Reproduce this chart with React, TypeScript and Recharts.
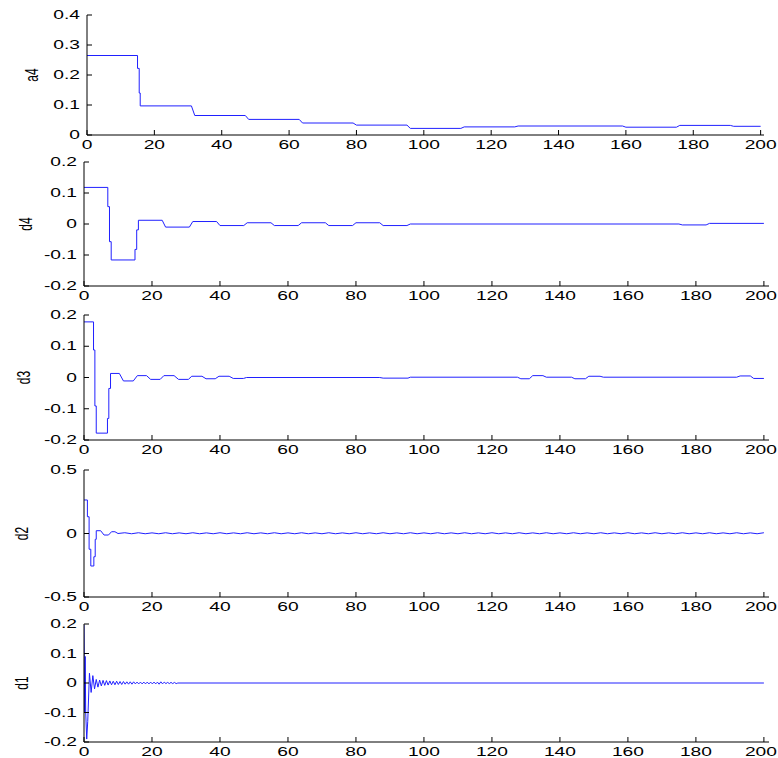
import { LineChart, Line, XAxis, YAxis } from "recharts";

// x ticks shared by all five panels
const xTicks = [0, 20, 40, 60, 80, 100, 120, 140, 160, 180, 200];

// approximation a4
const a4X = [0, 15, 15, 15.5, 15.5, 15.8, 15.8, 31, 32, 47, 48, 63, 64, 79, 80, 95, 96, 111, 112, 127, 128, 159, 160, 175, 176, 191, 192, 200];
const a4Y = [0.265, 0.265, 0.222, 0.222, 0.14, 0.14, 0.097, 0.097, 0.065, 0.065, 0.052, 0.052, 0.04, 0.04, 0.033, 0.033, 0.022, 0.022, 0.027, 0.027, 0.03, 0.03, 0.026, 0.026, 0.032, 0.032, 0.029, 0.029];

// detail d4
const d4X = [0, 7, 7, 7.5, 7.5, 8, 8, 15, 15, 15.5, 15.5, 16, 16, 23, 24, 31, 32, 39, 40, 47, 48, 55, 56, 63, 64, 71, 72, 79, 80, 87, 88, 95, 96, 175, 176, 183, 184, 200];
const d4Y = [0.118, 0.118, 0.056, 0.056, -0.057, -0.057, -0.116, -0.116, -0.082, -0.082, -0.019, -0.019, 0.012, 0.012, -0.01, -0.01, 0.008, 0.008, -0.005, -0.005, 0.004, 0.004, -0.005, -0.005, 0.004, 0.004, -0.005, -0.005, 0.004, 0.004, -0.005, -0.005, 0, 0, -0.003, -0.003, 0.002, 0.002];

// detail d3
const d3X = [0, 2.8, 2.8, 3.2, 3.2, 3.6, 3.6, 6.9, 6.9, 7.3, 7.3, 7.8, 7.8, 10.4, 11.6, 14.5, 15.7, 18.4, 19.6, 22.4, 23.5, 26.5, 27.8, 30.7, 31.7, 34.7, 35.9, 38.6, 39.7, 42.7, 43.9, 46.9, 47.8, 87, 88, 95.3, 96, 127.5, 128.5, 131, 132, 135, 136, 143.4, 144.4, 147.5, 148.5, 151.8, 152.8, 192, 193, 196, 197, 200];
const d3Y = [0.178, 0.178, 0.088, 0.088, -0.091, -0.091, -0.178, -0.178, -0.131, -0.131, -0.035, -0.035, 0.013, 0.013, -0.011, -0.011, 0.006, 0.006, -0.006, -0.006, 0.006, 0.006, -0.006, -0.006, 0.004, 0.004, -0.004, -0.004, 0.004, 0.004, -0.003, -0.003, 0, 0, -0.002, -0.002, 0.001, 0.001, -0.004, -0.004, 0.006, 0.006, 0.001, 0.001, -0.004, -0.004, 0.004, 0.004, 0.001, 0.001, 0.005, 0.005, -0.003, -0.003];

// detail d2
const d2X = [0, 1, 1, 1.5, 1.5, 2, 2, 2.9, 2.9, 3.3, 3.3, 3.6, 3.6, 4.9, 5.9, 7.2, 8.1, 9.1, 10,
  12, 14, 16, 18, 20, 22, 24, 26, 28, 30, 32, 34, 36, 38, 40, 42, 44, 46, 48, 50, 52, 54, 56, 58, 60, 62, 64, 66, 68, 70,
  72, 74, 76, 78, 80, 82, 84, 86, 88, 90, 92, 94, 96, 98, 100, 102, 104, 106, 108, 110, 112, 114, 116, 118, 120, 122, 124, 126, 128, 130,
  132, 134, 136, 138, 140, 142, 144, 146, 148, 150, 152, 154, 156, 158, 160, 162, 164, 166, 168, 170, 172, 174, 176, 178, 180, 182, 184, 186, 188, 190,
  192, 194, 196, 198, 200];
const d2Y = [0.264, 0.264, 0.132, 0.132, -0.124, -0.124, -0.256, -0.256, -0.183, -0.183, -0.046, -0.046, 0.022, 0.022, -0.012, -0.012, 0.014, 0.014, 0,
  0.006, -0.002, 0.006, -0.002, 0.005, -0.002, 0.006, -0.002, 0.005, -0.002, 0.006, -0.002, 0.005, -0.002, 0.006, -0.002, 0.005, -0.002, 0.006, -0.002, 0.005, -0.002, 0.006, -0.002, 0.005, -0.002, 0.006, -0.002, 0.005, -0.002,
  0.006, -0.002, 0.005, -0.002, 0.006, -0.002, 0.005, -0.002, 0.006, -0.002, 0.005, -0.002, 0.006, -0.002, 0.005, -0.002, 0.006, -0.002, 0.005, -0.002, 0.006, -0.002, 0.005, -0.002, 0.006, -0.002, 0.005, -0.002, 0.006, -0.002,
  0.005, -0.002, 0.006, -0.002, 0.005, -0.002, 0.006, -0.002, 0.005, -0.002, 0.006, -0.002, 0.005, -0.002, 0.006, -0.002, 0.005, -0.002, 0.006, -0.002, 0.005, -0.002, 0.006, -0.002, 0.005, -0.002, 0.006, -0.002, 0.005, -0.002,
  0.006, -0.002, 0.005, -0.002, 0.006];

// detail d1
const d1X = [0, 0.2, 0.35, 0.5, 0.8, 1.1, 1.6, 2.1, 2.6, 3.1, 3.6, 4.1, 4.6, 5.1, 5.6, 6.1, 6.6, 7.1, 7.6, 8.1, 8.6, 9.1, 9.6, 10.1, 10.6,
  11.1, 11.6, 12.1, 12.6, 13.1, 13.6, 14.1, 14.6, 15.1, 15.6, 16.1, 16.6, 17.1, 17.6, 18.1, 18.6, 19.1, 19.6, 20.1, 20.6,
  21.1, 21.6, 22.1, 22.6, 23.1, 23.6, 24.1, 24.6, 25.1, 25.6, 26.1, 26.6, 27.1, 27.6, 200];
const d1Y = [0.197, -0.1, 0.09, -0.1, -0.19, -0.13, 0.033, -0.032, 0.025, -0.02, 0.012, -0.014, 0.01, -0.01, 0.009, -0.008, 0.008, -0.007, 0.007, -0.006, 0.006, -0.006, 0.006, -0.005, 0.005,
  -0.005, 0.005, -0.004, 0.004, -0.004, 0.004, -0.004, 0.004, -0.003, 0.003, -0.003, 0.003, -0.003, 0.003, -0.003, 0.003, -0.003, 0.003, -0.003, 0.003,
  -0.003, 0.003, -0.004, 0.004, -0.003, 0.003, -0.002, 0.002, -0.002, 0.002, -0.002, 0.002, -0.002, 0, 0];

const FONT = "'Liberation Sans', Arial, sans-serif";
const SX = 1.6; // the picture's text is stretched sideways
const INK = "#000";
const W = 778;

function LeftTick({ x, y, payload }: any) {
  return (
    <g>
      <line x1={x + 7} x2={x + 12} y1={y} y2={y} stroke={INK} />
      <text transform={`translate(${x},${y}) scale(${SX},1)`} textAnchor="end" dy="0.35em" fontSize={12} fontFamily={FONT} fill={INK}>
        {payload.value}
      </text>
    </g>
  );
}

function BottomTick({ x, y, payload }: any) {
  // keep the last label inside the page
  const half = (String(payload.value).length * 6.7 * SX) / 2;
  const tx = Math.min(x, W - 1 - half);
  return (
    <g>
      <line x1={x} x2={x} y1={y - 5} y2={y - 10} stroke={INK} />
      <text transform={`translate(${tx},${y}) scale(${SX},1)`} textAnchor="middle" dy="0.71em" fontSize={12} fontFamily={FONT} fill={INK}>
        {payload.value}
      </text>
    </g>
  );
}

function RightTick({ x, y }: any) {
  return <line x1={x} x2={x - 5} y1={y} y2={y} stroke={INK} />;
}

function TopTick({ x, y }: any) {
  return <line x1={x} x2={x} y1={y} y2={y + 5} stroke={INK} />;
}

function SideLabel({ viewBox, text, at }: any) {
  const cy = viewBox.y + viewBox.height / 2;
  return (
    <text transform={`translate(${at},${cy}) scale(1.5,1) rotate(-90)`} textAnchor="middle" dy="0.35em" fontSize={12} fontFamily={FONT} fill={INK}>
      {text}
    </text>
  );
}

type Panel = {
  name: string;
  xs: number[];
  ys: number[];
  yDomain: [number, number];
  yTicks: number[];
  top: number;
  bottom: number;
  left: number;
  right: number;
  xMax: number;
  labelAt: number;
};

const panels: Panel[] = [
  { name: "a4", xs: a4X, ys: a4Y, yDomain: [0, 0.4], yTicks: [0, 0.1, 0.2, 0.3, 0.4], top: 15, bottom: 135, left: 87, right: 764, xMax: 201, labelAt: 32 },
  { name: "d4", xs: d4X, ys: d4Y, yDomain: [-0.2, 0.2], yTicks: [-0.2, -0.1, 0, 0.1, 0.2], top: 162, bottom: 286, left: 84, right: 769, xMax: 201.5, labelAt: 26 },
  { name: "d3", xs: d3X, ys: d3Y, yDomain: [-0.2, 0.2], yTicks: [-0.2, -0.1, 0, 0.1, 0.2], top: 315, bottom: 440, left: 84, right: 769, xMax: 201.5, labelAt: 24 },
  { name: "d2", xs: d2X, ys: d2Y, yDomain: [-0.5, 0.5], yTicks: [-0.5, 0, 0.5], top: 470, bottom: 597, left: 84, right: 769, xMax: 201.5, labelAt: 22 },
  { name: "d1", xs: d1X, ys: d1Y, yDomain: [-0.2, 0.2], yTicks: [-0.2, -0.1, 0, 0.1, 0.2], top: 624, bottom: 742, left: 84, right: 769, xMax: 201.5, labelAt: 22 },
];

const PAD = 6;
const XH = 20;

function SubPlot({ p }: { p: Panel }) {
  const n = Math.min(p.xs.length, p.ys.length);
  const data = p.xs.slice(0, n).map((x, i) => ({ x, v: p.ys[i] }));
  const h = PAD + (p.bottom - p.top) + XH + 2;
  return (
    <div style={{ position: "absolute", left: 0, top: p.top - PAD }}>
      <LineChart width={W} height={h} data={data} margin={{ top: PAD, right: W - p.right, bottom: 2, left: 0 }}>
        <XAxis
          dataKey="x"
          type="number"
          domain={[0, p.xMax]}
          ticks={xTicks}
          interval={0}
          allowDataOverflow
          height={XH}
          tickSize={0}
          tickMargin={5}
          tick={<BottomTick />}
          axisLine={{ stroke: INK }}
        />
        <XAxis
          xAxisId="top"
          orientation="top"
          dataKey="x"
          type="number"
          domain={[0, p.xMax]}
          ticks={xTicks}
          interval={0}
          allowDataOverflow
          height={0}
          tickSize={0}
          tickMargin={0}
          tick={<TopTick />}
          axisLine={{ stroke: INK }}
        />
        <YAxis
          type="number"
          domain={p.yDomain}
          ticks={p.yTicks}
          interval={0}
          allowDataOverflow
          width={p.left}
          tickSize={0}
          tickMargin={7}
          tick={<LeftTick />}
          axisLine={{ stroke: INK }}
          label={<SideLabel text={p.name} at={p.labelAt} />}
        />
        <YAxis
          yAxisId="right"
          orientation="right"
          type="number"
          domain={p.yDomain}
          ticks={p.yTicks}
          interval={0}
          allowDataOverflow
          width={0}
          tickSize={0}
          tickMargin={0}
          tick={<RightTick />}
          axisLine={{ stroke: INK }}
        />
        <Line type="linear" dataKey="v" stroke="#2020ff" strokeWidth={1} dot={false} isAnimationActive={false} />
      </LineChart>
    </div>
  );
}

export default function App() {
  return (
    <div style={{ position: "absolute", left: 0, top: 0, width: W, height: 758, background: "#fff", overflow: "hidden" }}>
      {panels.map((p) => (
        <SubPlot key={p.name} p={p} />
      ))}
    </div>
  );
}
